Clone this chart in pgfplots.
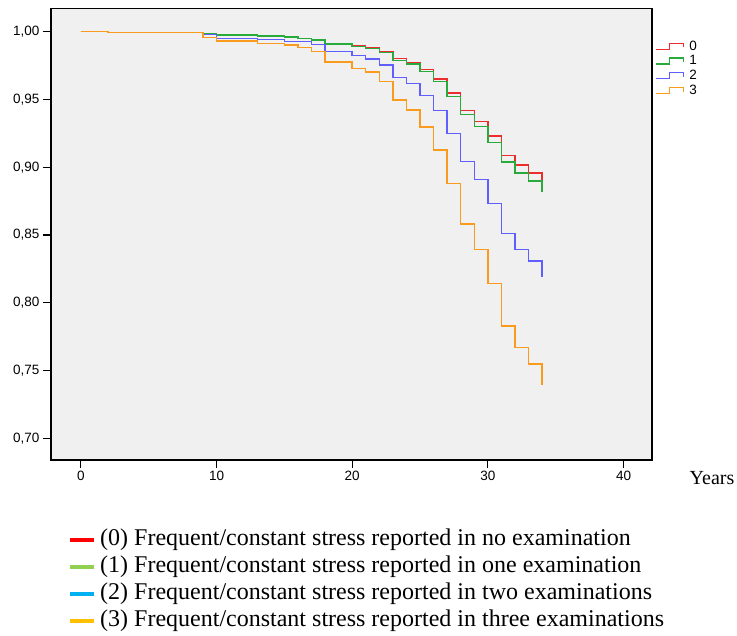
\documentclass[border=0pt]{standalone}
\usepackage{pgfplots}
\pgfplotsset{compat=1.18}
\usepackage{fontspec}
\setmainfont{Liberation Serif}
\setsansfont{Liberation Sans}

\definecolor{kmred}{RGB}{235,45,45}
\definecolor{kmgreen}{RGB}{40,170,60}
\definecolor{kmblue}{RGB}{95,95,255}
\definecolor{kmorange}{RGB}{250,155,30}
\definecolor{kmbg}{RGB}{240,240,240}
\definecolor{lgred}{RGB}{255,0,0}
\definecolor{lggreen}{RGB}{146,208,80}
\definecolor{lgblue}{RGB}{0,176,240}
\definecolor{lgorange}{RGB}{255,192,0}

\pgfplotsset{
  km/.style={const plot, mark=none, solid, line width=1.4pt, draw=#1, color=#1},
}

\begin{document}
\begin{tikzpicture}[x=1pt,y=1pt]
\path[use as bounding box] (0,0) rectangle (737,636);
\begin{axis}[
    at={(51pt,176pt)}, anchor=south west,
    width=601pt, height=451.5pt, scale only axis,
    xmin=-2.2, xmax=42.1,
    ymin=0.684, ymax=1.0171,
    xtick={0,10,20,30,40},
    ytick={0.70,0.75,0.80,0.85,0.90,0.95,1.00},
    xtick pos=bottom, ytick pos=left,
    tick align=outside, major tick length=8pt,
    tick style={black, line width=1.2pt},
    axis line style={black, line width=1.2pt},
    axis background/.style={fill=kmbg},
    ticklabel style={font=\sffamily\fontsize{13.5}{13.5}\selectfont},
    /pgf/number format/assume math mode=true,
    yticklabel style={/pgf/number format/.cd, fixed, fixed zerofill, precision=2, use comma},
    legend image code/.code={
        \draw[#1, line width=1.1pt] (0pt,-3pt) -- (14pt,-3pt) -- (14pt,3pt) -- (28pt,3pt) -- (28pt,-1pt);
    },
    legend style={at={(1.005,0.929)}, anchor=north west, draw=none, fill=none,
        inner sep=0pt, row sep=3.9pt,
        font=\sffamily\fontsize{13.5}{13.5}\selectfont,
        nodes={inner sep=0pt}},
    legend cell align=left,
]
% (0) no examination
\addplot[km=kmred] coordinates {
 (0,1.0000) (2,0.9995) (9,0.9988) (10,0.9976) (13,0.9968) (15,0.9961) (16,0.9951)
 (17,0.9944) (18,0.9914) (20,0.9897) (21,0.9882) (22,0.9855) (23,0.9801) (24,0.9774)
 (25,0.9720) (26,0.9651) (27,0.9548) (28,0.9420) (29,0.9336) (30,0.9229) (31,0.9088)
 (32,0.9015) (33,0.8956) (34,0.8904)
};
\addlegendentry{\hspace{5pt}0}
% (1) one examination
\addplot[km=kmgreen] coordinates {
 (0,1.0000) (2,0.9995) (9,0.9988) (10,0.9976) (13,0.9968) (15,0.9961) (16,0.9951)
 (17,0.9939) (18,0.9909) (20,0.9889) (21,0.9875) (22,0.9848) (23,0.9789) (24,0.9760)
 (25,0.9705) (26,0.9631) (27,0.9521) (28,0.9388) (29,0.9302) (30,0.9184) (31,0.9037)
 (32,0.8958) (33,0.8899) (34,0.8820)
};
\addlegendentry{\hspace{5pt}1}
% (2) two examinations
\addplot[km=kmblue] coordinates {
 (0,1.0000) (2,0.9994) (9,0.9981) (10,0.9951) (13,0.9941) (15,0.9926) (17,0.9907)
 (18,0.9853) (20,0.9823) (21,0.9799) (22,0.9754) (23,0.9664) (24,0.9617) (25,0.9531)
 (26,0.9417) (27,0.9248) (28,0.9041) (29,0.8911) (30,0.8734) (31,0.8512) (32,0.8392)
 (33,0.8307) (34,0.8193)
};
\addlegendentry{\hspace{5pt}2}
% (3) three examinations
\addplot[km=kmorange] coordinates {
 (0,1.0000) (2,0.9993) (9,0.9959) (10,0.9931) (13,0.9914) (15,0.9902) (16,0.9885)
 (17,0.9853) (18,0.9777) (20,0.9727) (21,0.9701) (22,0.9631) (23,0.9496) (24,0.9423)
 (25,0.9297) (26,0.9128) (27,0.8882) (28,0.8582) (29,0.8395) (30,0.8142) (31,0.7830)
 (32,0.7670) (33,0.7548) (34,0.7395)
};
\addlegendentry{\hspace{5pt}3}
\end{axis}

\node[anchor=center, font=\fontsize{20}{20}\selectfont] at (712,158) {Years};

\begin{scope}[font=\fontsize{24}{24}\selectfont]
\draw[lgred, line width=4pt] (70,96) -- (94,96);
\node[anchor=west, inner sep=0pt] at (100,96) {(0) Frequent/constant stress reported in no examination};
\draw[lggreen, line width=4pt] (70,69) -- (94,69);
\node[anchor=west, inner sep=0pt] at (100,69) {(1) Frequent/constant stress reported in one examination};
\draw[lgblue, line width=4pt] (70,42) -- (94,42);
\node[anchor=west, inner sep=0pt] at (100,42) {(2) Frequent/constant stress reported in two examinations};
\draw[lgorange, line width=4pt] (70,15) -- (94,15);
\node[anchor=west, inner sep=0pt] at (100,15) {(3) Frequent/constant stress reported in three examinations};
\end{scope}
\end{tikzpicture}
\end{document}
